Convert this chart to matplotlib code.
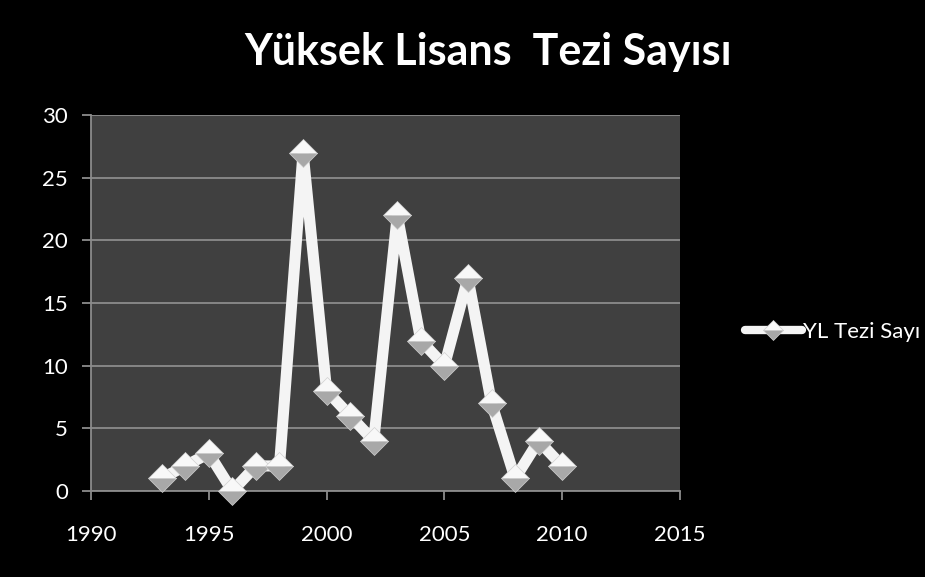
import matplotlib
matplotlib.use("Agg")
import matplotlib.pyplot as plt
from matplotlib.lines import Line2D

years = [1993, 1994, 1995, 1996, 1997, 1998, 1999, 2000, 2001, 2002,
         2003, 2004, 2005, 2006, 2007, 2008, 2009, 2010]
counts = [1, 2, 3, 0, 2, 2, 27, 8, 6, 4, 22, 12, 10, 17, 7, 1, 4, 2]
x_ticks = [1990, 1995, 2000, 2005, 2010, 2015]
y_ticks = [0, 5, 10, 15, 20, 25, 30]
title = "Yüksek Lisans  Tezi Sayısı"
series_name = "YL Tezi Sayı"

plt.rcParams['font.family'] = ['Lato', 'DejaVu Sans']

fig = plt.figure(figsize=(9.25, 5.77), dpi=100, facecolor='black')
ax = fig.add_axes([91/925, 1 - 491/577, (680-91)/925, (491-115)/577])
ax.set_facecolor('#404040')

ax.set_xlim(1990, 2015)
ax.set_ylim(0, 30)
ax.set_xticks(x_ticks)
ax.set_yticks(y_ticks)
ax.grid(axis='y', color='#8c8c8c', linewidth=1.3)
ax.set_axisbelow(True)
for s in ['top', 'right']:
    ax.spines[s].set_visible(False)
for s in ['left', 'bottom']:
    ax.spines[s].set_color('#8c8c8c')
    ax.spines[s].set_linewidth(1.3)
ax.tick_params(colors='#8c8c8c', length=6.5, width=1.3, direction='out',
               labelcolor='white', labelsize=16)
ax.tick_params(axis='x', pad=18)
ax.tick_params(axis='y', pad=10)

marker_kw = dict(marker='D', fillstyle='top', markerfacecolor='#f8f8f8',
                 markerfacecoloralt='#a8a8a8', markeredgecolor='#d0d0d0',
                 markeredgewidth=0.5)

ax.plot(years, counts, color='#f4f4f4', linewidth=8,
        solid_joinstyle='bevel', zorder=3, clip_on=False)
ax.plot(years, counts, linestyle='none', markersize=14.5, zorder=4,
        clip_on=False, **marker_kw)

fig.text(488/925, 1 - 52/577, title, color='white', fontsize=31,
         fontweight='bold', ha='center', va='center')

handle = Line2D([0], [0], color='#f4f4f4', linewidth=6,
                solid_capstyle='round', markersize=10, **marker_kw)
leg = fig.legend([handle], [series_name], loc='center left',
                 bbox_to_anchor=(745/925, 1 - 332/577), frameon=False,
                 fontsize=16, handlelength=2.55, handletextpad=0.05,
                 labelcolor='white', borderaxespad=0, borderpad=0)

fig.savefig('out.png', dpi=100, facecolor='black')
